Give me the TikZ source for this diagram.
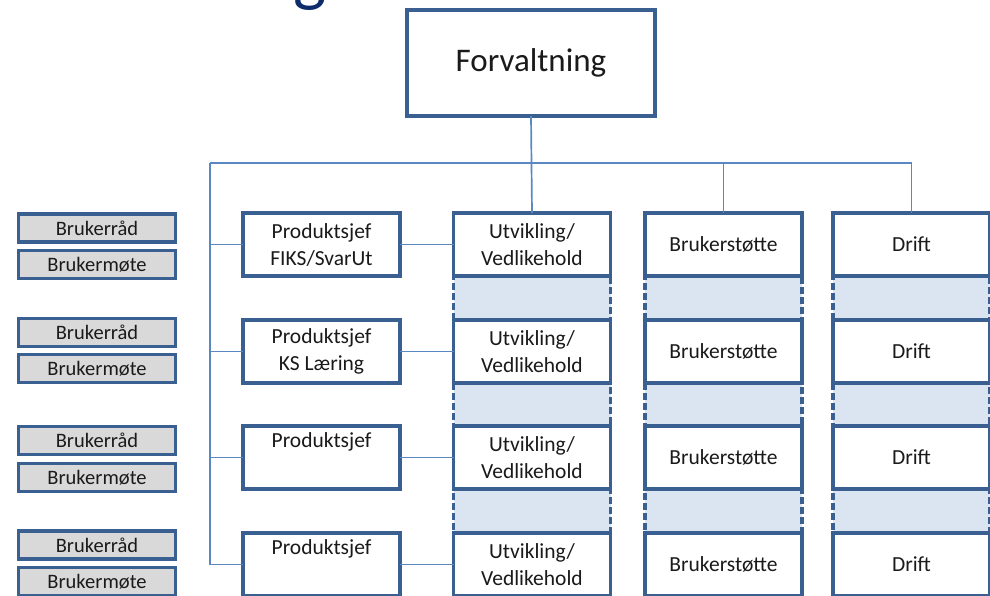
\documentclass[tikz,border=0pt]{standalone}
\usepackage{fontspec}
\setmainfont{Carlito}
\definecolor{boxblue}{HTML}{3A5F91}
\definecolor{linkblue}{HTML}{5B87C2}
\definecolor{colfill}{HTML}{DBE5F1}
\definecolor{grayfill}{HTML}{D9D9D9}
\definecolor{txt}{HTML}{1A1A1A}
\definecolor{navy}{HTML}{0E2B6B}
\begin{document}
\begin{tikzpicture}[x=1pt,y=-1pt,
  every node/.style={inner sep=0pt, outer sep=0pt, text=txt},
  topbox/.style={draw=boxblue, line width=3.4pt, fill=white, minimum width=248pt, minimum height=106pt, font=\fontsize{33}{38}\selectfont},
  unitbox/.style={draw=boxblue, line width=3.4pt, fill=white, minimum width=157pt, minimum height=63pt, align=center, font=\fontsize{21.5}{27}\selectfont},
  userbox/.style={draw=boxblue, line width=3.4pt, fill=grayfill, minimum width=157pt, minimum height=28pt, font=\fontsize{20.5}{24}\selectfont},
  link/.style={draw=linkblue, line width=1.7pt},
  colbg/.style={fill=colfill, draw=boxblue, line width=3.4pt, dash pattern=on 7pt off 3pt}
]
\useasboundingbox (0,0) rectangle (990,596);
\clip (0,0) rectangle (990,596);

% cropped title fragment
\node[anchor=base, text=navy, font=\fontsize{70}{80}\selectfont] (title) at (310,-1.5) {g};

% column backgrounds
\path[colbg] (453.5,213) rectangle (610.5,610);
\path[colbg] (645,213) rectangle (802,610);
\path[colbg] (833,213) rectangle (990,610);

% top box
\node[topbox] (forv) at (531,63) {Forvaltning};

% rows
\foreach \i/\y in {1/244.5, 2/351.5, 3/457.5, 4/564.5} {
  \node[unitbox] (utv\i) at (532,\y) {Utvikling/\\Vedlikehold};
  \node[unitbox] (bs\i) at (723.5,\y) {Brukerstøtte};
  \node[unitbox] (dr\i) at (911.5,\y) {Drift};
}
\node[unitbox] (ps1) at (321.5,244.5) {Produktsjef\\FIKS/SvarUt};
\node[unitbox] (ps2) at (321.5,351.5) {Produktsjef\\KS Læring};
\node[unitbox] (ps3) at (321.5,457.5) {Produktsjef\\\strut};
\node[unitbox] (ps4) at (321.5,564.5) {Produktsjef\\\strut};

% user boxes
\node[userbox] (br1) at (97,228) {Brukerråd};
\node[userbox] (bm1) at (97,264.5) {Brukermøte};
\node[userbox] (br2) at (97,332.5) {Brukerråd};
\node[userbox] (bm2) at (97,368.5) {Brukermøte};
\node[userbox] (br3) at (97,440.5) {Brukerråd};
\node[userbox] (bm3) at (97,477.5) {Brukermøte};
\node[userbox] (br4) at (97,545) {Brukerråd};
\node[userbox] (bm4) at (97,581.5) {Brukermøte};

% connectors
\coordinate (busL) at (210,163);
\draw[link] (forv.south) -- (utv1.north);
\draw[link] (busL) -| (dr1.north);
\draw[link] (bs1.north) -- (bs1.north |- busL);
\draw[link] (busL) |- (ps4.west);
\foreach \i in {1,2,3} {
  \draw[link] (ps\i.west) -- (ps\i.west -| busL);
}
\foreach \i in {1,2,3,4} {
  \draw[link] (ps\i.east) -- (utv\i.west);
}
\end{tikzpicture}
\end{document}
